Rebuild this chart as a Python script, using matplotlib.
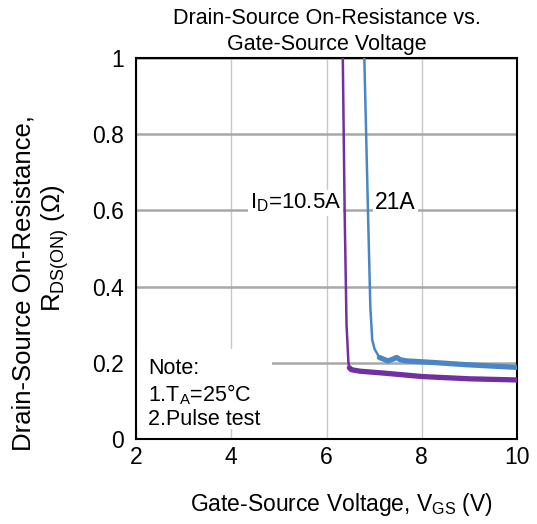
import matplotlib
matplotlib.use('Agg')
import matplotlib.pyplot as plt
from matplotlib.patches import Rectangle

plt.rcParams['font.family'] = ['Liberation Sans', 'DejaVu Sans']
plt.rcParams['mathtext.fontset'] = 'custom'
plt.rcParams['mathtext.rm'] = 'Liberation Sans'
plt.rcParams['mathtext.it'] = 'Liberation Sans'

# ID = 10.5A (steep part and flat part)
vgs_105_steep = [6.34, 6.38, 6.42, 6.46, 6.48]
rds_105_steep = [1.02, 0.60, 0.30, 0.20, 0.187]
vgs_105_flat = [6.48, 6.52, 6.7, 7.2, 8.0, 9.0, 10.0]
rds_105_flat = [0.187, 0.182, 0.178, 0.173, 0.164, 0.158, 0.155]

# ID = 21A
vgs_21_steep = [6.79, 6.87, 6.92, 6.96, 7.01, 7.11]
rds_21_steep = [1.02, 0.60, 0.346, 0.26, 0.236, 0.214]
vgs_21_flat = [7.11, 7.29, 7.40, 7.47, 7.55, 7.68, 8.23, 8.94, 10.0]
rds_21_flat = [0.214, 0.205, 0.210, 0.214, 0.208, 0.205, 0.201, 0.195, 0.188]

x_ticks = [2, 4, 6, 8, 10]
y_ticks = [0, 0.2, 0.4, 0.6, 0.8, 1]
y_ticklabels = ['0', '0.2', '0.4', '0.6', '0.8', '1']

purple = '#7030a0'
blue = '#4a86c6'

fig = plt.figure(figsize=(5.37, 5.24), dpi=100)
ax = fig.add_axes([0.2533, 0.1622, 0.7095, 0.7271])

ax.set_axisbelow(True)
ax.xaxis.grid(True, color='#c8c8c8', linewidth=1.0)
ax.yaxis.grid(True, color='#a8a8a8', linewidth=1.8)

ax.plot(vgs_105_steep, rds_105_steep, color=purple, lw=1.8, solid_capstyle='round', zorder=3)
ax.plot(vgs_105_flat, rds_105_flat, color=purple, lw=3.8, solid_capstyle='round', zorder=3)
ax.plot(vgs_21_steep, rds_21_steep, color=blue, lw=1.8, solid_capstyle='round', zorder=3)
ax.plot(vgs_21_flat, rds_21_flat, color=blue, lw=3.8, solid_capstyle='round', zorder=3)

ax.set_xlim(2, 10)
ax.set_ylim(0, 1)
ax.set_xticks(x_ticks)
ax.set_yticks(y_ticks)
ax.set_yticklabels(y_ticklabels)
ax.tick_params(axis='both', length=0, labelsize=16.5)
ax.tick_params(axis='x', pad=5)
ax.tick_params(axis='y', pad=9)
for s in ax.spines.values():
    s.set_linewidth(1.5)
    s.set_color('black')

# curve labels
ax.text(6.31, 0.605, r'I$_{\mathrm{D}}$=10.5A', ha='right', va='baseline', fontsize=16,
        bbox=dict(facecolor='white', edgecolor='none', pad=1.5), zorder=2)
ax.text(7.02, 0.603, '21A', ha='left', va='baseline', fontsize=16.5,
        bbox=dict(facecolor='white', edgecolor='none', pad=1.5), zorder=2)

# note
ax.add_patch(Rectangle((2.0, 0.025), 2.86, 0.21, facecolor='white', edgecolor='none', zorder=1.5))
ax.text(2.25, 0.118, 'Note:\n1.T$_{\\mathrm{A}}$=25°C\n2.Pulse test', ha='left', va='center',
        fontsize=15.5, linespacing=1.13, zorder=2)

ax.set_title('Drain-Source On-Resistance vs.\nGate-Source Voltage', fontsize=15.5, pad=6,
             linespacing=1.3)
ax.set_xlabel(r'Gate-Source Voltage, V$_{\mathrm{GS}}$ (V)', fontsize=16.5, labelpad=16)
ax.xaxis.label.set_x(0.54)
fig.text(24 / 537, 1 - 283 / 524, 'Drain-Source On-Resistance,', rotation=90,
         ha='center', va='center', fontsize=18.5)
fig.text(55 / 537, 1 - 248 / 524, 'R$_{\\mathrm{DS(ON)}}$ (Ω)', rotation=90,
         ha='center', va='center', fontsize=18.5)

fig.savefig('out.png', dpi=100)
